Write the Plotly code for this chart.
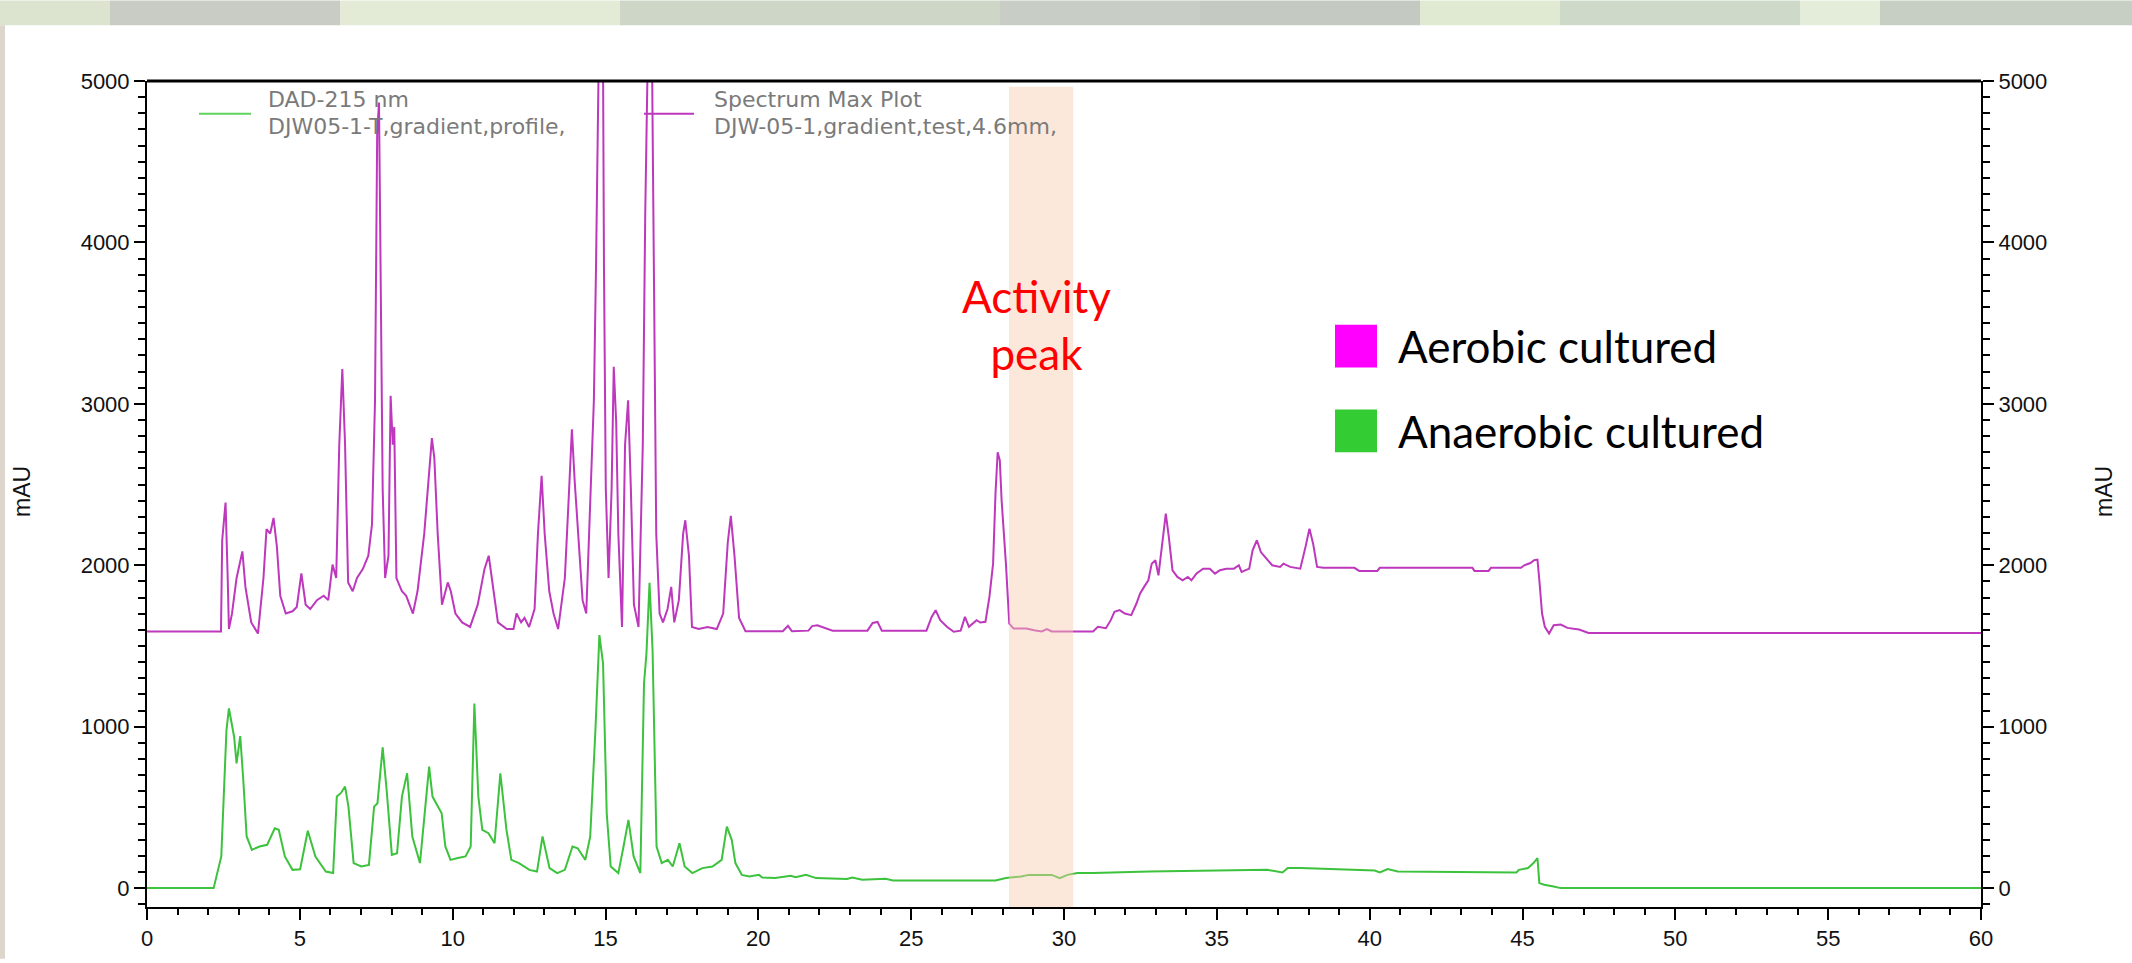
import plotly.graph_objects as go

# ---------------- data ----------------
t_aerobic = [0.0, 2.42, 2.46, 2.57, 2.64, 2.68, 2.78, 2.93, 3.12, 3.22, 3.41, 3.63, 3.81, 3.91, 4.03, 4.14,
             4.25, 4.36, 4.54, 4.76, 4.90, 5.05, 5.19, 5.34, 5.56, 5.78, 5.93, 6.07, 6.19, 6.29, 6.39, 6.48,
             6.58, 6.73, 6.87, 7.06, 7.24, 7.36, 7.46, 7.53, 7.59, 7.65, 7.71, 7.79, 7.90, 7.97, 8.04, 8.09,
             8.16, 8.34, 8.48, 8.70, 8.85, 9.07, 9.17, 9.32, 9.40, 9.51, 9.65, 9.84, 9.94, 10.09, 10.31, 10.57,
             10.82, 11.04, 11.18, 11.33, 11.48, 11.77, 11.99, 12.09, 12.24, 12.35, 12.50, 12.68, 12.79, 12.91,
             13.01, 13.16, 13.30, 13.45, 13.67, 13.81, 13.90, 13.99, 14.11, 14.25, 14.37, 14.47, 14.62, 14.69,
             14.75, 14.81, 14.87, 14.92, 14.95, 15.01, 15.10, 15.20, 15.27, 15.35, 15.42, 15.54, 15.64, 15.74,
             15.83, 15.93, 16.08, 16.22, 16.30, 16.36, 16.42, 16.50, 16.53, 16.56, 16.66, 16.77, 16.88, 17.03,
             17.15, 17.25, 17.40, 17.54, 17.61, 17.73, 17.83, 18.05, 18.34, 18.64, 18.85, 19.00, 19.10, 19.22,
             19.37, 19.58, 20.80, 20.97, 21.10, 21.64, 21.76, 21.93, 22.10, 22.43, 23.57, 23.74, 23.90, 24.04,
             25.50, 25.67, 25.80, 25.95, 26.17, 26.39, 26.62, 26.76, 26.89, 27.02, 27.14, 27.26, 27.43, 27.56,
             27.68, 27.76, 27.83, 27.90, 27.96, 28.10, 28.21, 28.35, 28.77, 29.02, 29.27, 29.44, 29.60, 30.95,
             31.11, 31.37, 31.53, 31.65, 31.82, 31.99, 32.20, 32.37, 32.49, 32.62, 32.76, 32.87, 32.99, 33.09,
             33.21, 33.33, 33.43, 33.55, 33.71, 33.88, 34.05, 34.17, 34.33, 34.55, 34.77, 34.94, 35.10, 35.31,
             35.56, 35.72, 35.81, 36.06, 36.17, 36.31, 36.44, 36.61, 36.81, 37.07, 37.18, 37.40, 37.73, 37.90,
             38.03, 38.15, 38.28, 38.49, 39.50, 39.66, 40.25, 40.33, 43.36, 43.43, 43.89, 43.97, 44.95, 45.06,
             45.26, 45.38, 45.49, 45.56, 45.64, 45.73, 45.87, 46.02, 46.25, 46.47, 46.85, 47.16, 60.0]
v_aerobic = [1590, 1590, 2155, 2389, 1921, 1605, 1700, 1920, 2086, 1866, 1646, 1577, 1921, 2224, 2196, 2293,
             2114, 1811, 1701, 1715, 1742, 1949, 1756, 1729, 1784, 1811, 1784, 2004, 1921, 2747, 3215, 2747,
             1894, 1839, 1921, 1976, 2059, 2252, 3022, 4674, 4866, 3848, 2472, 1921, 2059, 3050, 2747, 2857,
             1921, 1839, 1811, 1701, 1839, 2196, 2444, 2788, 2664, 2196, 1756, 1894, 1839, 1701, 1646, 1618,
             1756, 1976, 2059, 1866, 1646, 1605, 1605, 1701, 1646, 1674, 1618, 1729, 2196, 2554,
             2196, 1839, 1701, 1605, 1921, 2472, 2843, 2527, 2196, 1784, 1701, 2196, 3022, 3848,
             5100, 5600, 5600, 5100, 3848, 2472, 1921, 2472, 3229, 2885, 2196, 1618, 2747, 3022,
             2472, 1756, 1618, 2747, 4178, 5100, 5600, 5600, 4900, 4123, 2196, 1701, 1646, 1729,
             1866, 1646, 1784, 2196, 2279, 2059, 1618, 1605, 1618, 1605, 1701, 2141, 2306, 2059,
             1674, 1591, 1591, 1625, 1591, 1595, 1623, 1628, 1618, 1595, 1595, 1643, 1649, 1595,
             1595, 1680, 1722, 1660, 1619, 1588, 1595, 1680, 1619, 1639, 1660, 1645, 1650, 1804,
             2010, 2450, 2700, 2650, 2400, 2010, 1639, 1608, 1608, 1598, 1590, 1605, 1590, 1590,
             1619, 1610, 1660, 1711, 1722, 1701, 1691, 1763, 1825, 1866, 1907, 2010, 2031, 1938,
             2113, 2320, 2175, 1969, 1928, 1907, 1928, 1907, 1948, 1979, 1979, 1948, 1969, 1979,
             1979, 2000, 1959, 1979, 2093, 2155, 2082, 2041, 2000, 1990, 2010, 1990, 1979, 2113,
             2227, 2134, 1990, 1984, 1984, 1965, 1965, 1984, 1984, 1965, 1965, 1984, 1984, 2000,
             2014, 2031, 2035, 1887, 1701, 1619, 1577, 1629, 1633, 1612, 1602, 1581, 1581]

t_anaerobic = [0.0, 2.18, 2.43, 2.60, 2.68, 2.85, 2.93, 3.05, 3.15, 3.26, 3.43, 3.68, 3.93, 4.18, 4.31, 4.51,
               4.76, 5.01, 5.26, 5.51, 5.85, 6.09, 6.21, 6.34, 6.48, 6.59, 6.76, 7.01, 7.26, 7.43, 7.54, 7.71,
               7.84, 8.01, 8.18, 8.34, 8.51, 8.68, 8.93, 9.23, 9.34, 9.51, 9.64, 9.76, 9.93, 10.17, 10.42,
               10.59, 10.71, 10.84, 10.97, 11.17, 11.37, 11.56, 11.76, 11.92, 12.17, 12.51, 12.76, 12.94,
               13.17, 13.42, 13.67, 13.92, 14.09, 14.34, 14.50, 14.67, 14.80, 14.92, 15.04, 15.17, 15.42,
               15.59, 15.75, 15.92, 16.14, 16.26, 16.34, 16.44, 16.54, 16.67, 16.84, 17.04, 17.20, 17.42,
               17.59, 17.84, 18.17, 18.50, 18.80, 18.97, 19.13, 19.25, 19.46, 19.71, 20.02, 20.13, 20.55,
               21.06, 21.22, 21.56, 21.76, 21.89, 22.90, 23.07, 23.40, 24.16, 24.41, 27.76, 28.10, 28.60,
               28.85, 29.60, 29.86, 30.11, 30.44, 30.95, 32.79, 36.65, 37.15, 37.32, 37.74, 40.17, 40.33,
               40.59, 40.92, 44.80, 44.88, 45.18, 45.36, 45.49, 45.55, 45.71, 46.02, 46.25, 60.0]
v_anaerobic = [0, 0, 196, 979, 1113, 938, 773, 942, 670, 320, 237, 258, 268, 371, 361, 196,
               113, 117, 355, 196, 103, 93, 567, 588, 629, 505, 155, 134, 144, 505, 526, 872,
               608, 206, 216, 567, 711, 320, 155, 753, 567, 505, 464, 258, 175, 186, 196,
               258, 1144, 567, 361, 340, 278, 711, 361, 175, 155, 113, 103, 320,
               124, 93, 113, 258, 247, 175, 320, 979, 1567, 1392, 464, 134, 93,
               258, 423, 196, 93, 1268, 1454, 1891, 1474, 258, 155, 175, 134, 278,
               134, 93, 124, 134, 175, 381, 299, 155, 82, 72, 82, 66, 62,
               76, 68, 82, 70, 62, 56, 66, 52, 58, 47, 47, 62, 72,
               82, 82, 62, 82, 93, 93, 103, 113, 97, 124, 124, 109, 97,
               118, 103, 97, 113, 124, 155, 186, 31, 21, 10, 0, 0]

x_tick_step, x_minor_step = 5, 1
y_tick_step, y_minor_step = 1000, 100
activity_band = [28.2, 30.3]
series_names = ["Aerobic cultured", "Anaerobic cultured"]
old_legend = [["DAD-215 nm", "DJW05-1-T,gradient,profile,"],
              ["Spectrum Max Plot", "DJW-05-1,gradient,test,4.6mm,"]]

# ---------------- geometry / style ----------------
W, H = 2132, 963
L, R, T, B = 147, 151, 81, 52
PW, PH = W - L - R, H - T - B


def px(x):
    return (x - L) / PW


def py(y):
    return (H - B - y) / PH


MAG_LINE = "#BD38BD"
GRN_LINE = "#3CC23C"
MAG_FILL = "#FF00FF"
GRN_FILL = "#33CC33"
TICK_FONT = dict(family="Liberation Sans, Arial", size=22, color="#111111")

fig = go.Figure()
fig.add_trace(go.Scatter(x=t_aerobic, y=v_aerobic, mode="lines", name=series_names[0],
                         line=dict(color=MAG_LINE, width=2), showlegend=False, yaxis="y"))
fig.add_trace(go.Scatter(x=t_anaerobic, y=v_anaerobic, mode="lines", name=series_names[1],
                         line=dict(color=GRN_LINE, width=2), showlegend=False, yaxis="y2"))

yrange = [-117, 5000]
common_y = dict(range=yrange, tickmode="linear", tick0=0, dtick=y_tick_step,
                ticks="outside", ticklen=11, tickwidth=2,
                tickcolor="black", showline=True, linecolor="black", linewidth=2,
                showgrid=False, zeroline=False, tickfont=TICK_FONT,
                minor=dict(dtick=y_minor_step, tick0=0, ticks="outside", ticklen=7, tickwidth=2,
                           tickcolor="black", showgrid=False))

fig.update_layout(
    width=W, height=H,
    margin=dict(l=L, r=R, t=T, b=B, pad=0),
    paper_bgcolor="white", plot_bgcolor="white",
    xaxis=dict(range=[0, 60], tickmode="linear", tick0=0, dtick=x_tick_step,
               ticks="outside", ticklen=11, tickwidth=2,
               tickcolor="black", showline=True, linecolor="black", linewidth=2,
               showgrid=False, zeroline=False, tickfont=TICK_FONT,
               minor=dict(dtick=x_minor_step, tick0=0, ticks="outside", ticklen=6, tickwidth=2,
                          tickcolor="black", showgrid=False)),
    yaxis=dict(side="left", **common_y),
    yaxis2=dict(side="right", overlaying="y", anchor="x", **common_y),
    showlegend=False,
)

shapes = []
# background photo strip at the top and left edge
strip = [(0, 110, "#DCE3CF"), (110, 340, "#C9CCC4"), (340, 620, "#E3EBD6"), (620, 1000, "#CDD6C7"),
         (1000, 1200, "#C8CDC5"), (1200, 1420, "#C4C9C2"), (1420, 1560, "#E0EAD3"),
         (1560, 1800, "#CFD9C9"), (1800, 1880, "#E4EDDA"), (1880, 2132, "#C7CFC5")]
for x0, x1, c in strip:
    shapes.append(dict(type="rect", xref="paper", yref="paper", x0=px(x0), x1=px(x1),
                       y0=py(25), y1=py(0), fillcolor=c, line=dict(width=0), layer="below"))
shapes.append(dict(type="rect", xref="paper", yref="paper", x0=px(0), x1=px(5),
                   y0=py(963), y1=py(25), fillcolor="#DCD6CC", line=dict(width=0), layer="below"))
# activity band
shapes.append(dict(type="rect", xref="x", yref="y", x0=activity_band[0], x1=activity_band[1],
                   y0=yrange[0], y1=4965, fillcolor="#F8CBAD", opacity=0.45,
                   line=dict(width=0), layer="above"))
# top border
shapes.append(dict(type="line", xref="paper", yref="paper", x0=0, x1=1, y0=1, y1=1,
                   line=dict(color="black", width=3)))
# old instrument legend line samples
shapes.append(dict(type="line", xref="paper", yref="paper", x0=px(199), x1=px(251), y0=py(114),
                   y1=py(114), line=dict(color="#5FD35F", width=2)))
shapes.append(dict(type="line", xref="paper", yref="paper", x0=px(644), x1=px(694), y0=py(114),
                   y1=py(114), line=dict(color=MAG_LINE, width=2)))
# new legend squares
shapes.append(dict(type="rect", xref="paper", yref="paper", x0=px(1335), x1=px(1377), y0=py(369),
                   y1=py(326), fillcolor=MAG_FILL, line=dict(width=0)))
shapes.append(dict(type="rect", xref="paper", yref="paper", x0=px(1335), x1=px(1377), y0=py(454),
                   y1=py(411), fillcolor=GRN_FILL, line=dict(width=0)))
fig.update_layout(shapes=shapes)

ann = []
GRAY_FONT = dict(family="DejaVu Sans", size=22, color="#7A7A7A")
for (line1, line2), x0 in zip(old_legend, [266, 712]):
    ann.append(dict(text=line1, xref="paper", yref="paper", x=px(x0), y=py(100), xanchor="left",
                    yanchor="middle", showarrow=False, font=GRAY_FONT))
    ann.append(dict(text=line2, xref="paper", yref="paper", x=px(x0), y=py(127), xanchor="left",
                    yanchor="middle", showarrow=False, font=GRAY_FONT))

CAL = "Lato, Carlito, Calibri, sans-serif"
ann.append(dict(text="Activity<br>peak", xref="paper", yref="paper", x=px(1036), y=py(326),
                xanchor="center", yanchor="middle", showarrow=False,
                font=dict(family=CAL, size=44, color="#FF0000")))
ann.append(dict(text=series_names[0], xref="paper", yref="paper", x=px(1396), y=py(347),
                xanchor="left", yanchor="middle", showarrow=False,
                font=dict(family=CAL, size=44, color="black")))
ann.append(dict(text=series_names[1], xref="paper", yref="paper", x=px(1396), y=py(433),
                xanchor="left", yanchor="middle", showarrow=False,
                font=dict(family=CAL, size=44, color="black")))
for xc in [22, 2104]:
    ann.append(dict(text="mAU", xref="paper", yref="paper", x=px(xc), y=py(494), textangle=-90,
                    xanchor="center", yanchor="middle", showarrow=False,
                    font=dict(family="Liberation Sans, Arial", size=23, color="#111111")))
fig.update_layout(annotations=ann)

fig.write_html("out.html")
